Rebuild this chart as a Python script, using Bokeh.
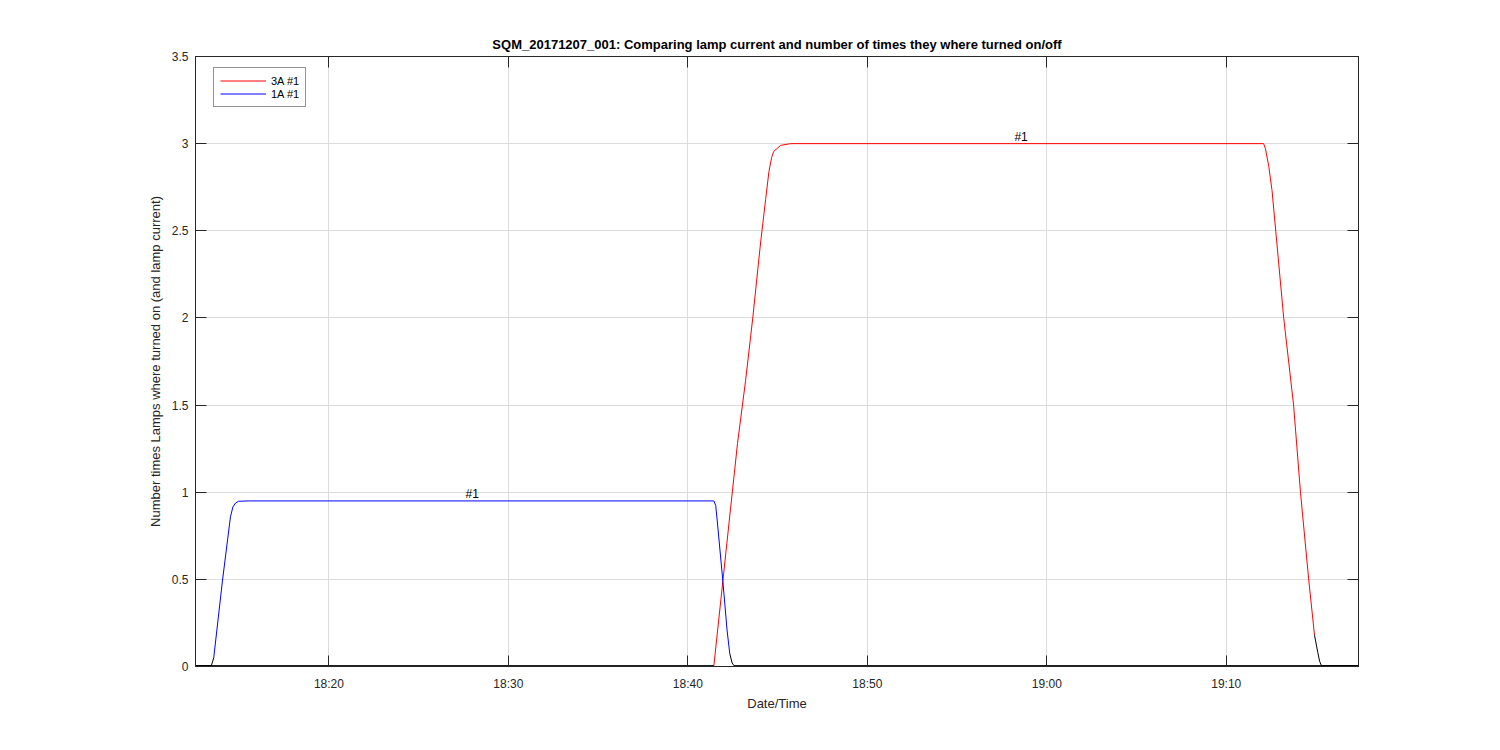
import pandas as pd
from bokeh.plotting import figure
from bokeh.models import (Range1d, LinearAxis, FixedTicker, DatetimeTickFormatter,
                          CustomJSTickFormatter, Legend, LegendItem)
from bokeh.embed import file_html
from bokeh.resources import INLINE
from bokeh.core.properties import value

DATE = "2017-12-07 "

# ---- axes -------------------------------------------------------------
x_start = "18:12:34"
x_end = "19:17:22"
x_ticks = ["18:20", "18:30", "18:40", "18:50", "19:00", "19:10"]
y_ticks = [0, 0.5, 1, 1.5, 2, 2.5, 3, 3.5]

# ---- 3A #1 (red while on, black while off) ----------------------------
lamp3a_on_time = ["18:41:27", "18:41:57", "18:42:23", "18:42:46", "18:43:13", "18:43:37",
                  "18:44:03", "18:44:20", "18:44:31", "18:44:40", "18:44:47", "18:45:10",
                  "18:45:43", "19:12:05", "19:12:11", "19:12:22", "19:12:33", "19:13:12",
                  "19:13:45", "19:14:08", "19:14:36", "19:14:55"]
lamp3a_on_value = [0.005, 0.49, 0.91, 1.28, 1.64, 2.0,
                   2.43, 2.68, 2.84, 2.92, 2.955, 2.99,
                   3.0, 3.0, 2.97, 2.87, 2.73, 2.0,
                   1.5, 1.0, 0.49, 0.18]
lamp3a_off1_time = ["18:12:34", "18:41:27"]
lamp3a_off1_value = [0.005, 0.005]
lamp3a_off2_time = ["19:14:55", "19:15:06", "19:15:12", "19:15:18", "19:17:22"]
lamp3a_off2_value = [0.18, 0.08, 0.03, 0.005, 0.005]

# ---- 1A #1 (blue while on, black while off) ---------------------------
lamp1a_on_time = ["18:13:35", "18:14:04", "18:14:31", "18:14:39", "18:14:48", "18:14:58",
                  "18:15:30", "18:41:27", "18:41:33", "18:41:38", "18:41:57", "18:42:11",
                  "18:42:20"]
lamp1a_on_value = [0.05, 0.49, 0.86, 0.915, 0.938, 0.948,
                   0.95, 0.95, 0.925, 0.84, 0.49, 0.21,
                   0.075]
lamp1a_off1_time = ["18:12:34", "18:13:27", "18:13:35"]
lamp1a_off1_value = [0.005, 0.005, 0.05]
lamp1a_off2_time = ["18:42:20", "18:42:28", "18:42:34", "19:17:22"]
lamp1a_off2_value = [0.075, 0.02, 0.005, 0.005]

# ---- annotations ------------------------------------------------------
label_time = ["18:27:59", "18:58:34"]
label_value = [0.95, 3.0]
label_text = ["#1", "#1"]


def ts(times):
    return pd.to_datetime([DATE + t for t in times])


FONT = "Liberation Sans"
AX = "#262626"

p = figure(width=1490, height=740, x_axis_type="datetime",
           output_backend="svg", toolbar_location=None,
           min_border_left=195, min_border_right=132,
           min_border_top=56, min_border_bottom=74,
           x_range=Range1d(pd.Timestamp(DATE + x_start), pd.Timestamp(DATE + x_end)),
           y_range=Range1d(0, 3.5))

p.background_fill_color = "white"
p.border_fill_color = "white"
p.outline_line_color = AX
p.outline_line_width = 1

tick_ms = [pd.Timestamp(DATE + t + ":00").value / 1e6 for t in x_ticks]
xticker = FixedTicker(ticks=tick_ms)
yticker = FixedTicker(ticks=y_ticks)

hm = "%H:%M"
p.xaxis.ticker = xticker
p.xaxis.formatter = DatetimeTickFormatter(milliseconds=hm, seconds=hm, minsec=hm, minutes=hm,
                                          hourmin=hm, hours=hm, days=hm, months=hm, years=hm)
p.yaxis.ticker = yticker
p.yaxis.formatter = CustomJSTickFormatter(code="return String(tick)")
p.xgrid.ticker = xticker
p.ygrid.ticker = yticker

for ax in (p.xaxis[0], p.yaxis[0]):
    ax.major_tick_in = 11
    ax.major_tick_out = 0
    ax.minor_tick_in = 0
    ax.minor_tick_out = 0
    ax.axis_line_color = AX
    ax.major_tick_line_color = AX
    ax.major_label_text_color = AX
    ax.major_label_text_font = FONT
    ax.major_label_text_font_size = "12px"
    ax.axis_label_text_font = FONT
    ax.axis_label_text_font_size = "13px"
    ax.axis_label_text_font_style = "normal"
    ax.axis_label_text_color = AX

p.xaxis.axis_label = "Date/Time"
p.yaxis.axis_label = "Number times Lamps where turned on (and lamp current)"
p.xaxis.major_label_standoff = 10
p.yaxis.major_label_standoff = 7
p.xaxis.axis_label_standoff = 2
p.yaxis.axis_label_standoff = 6

empty = CustomJSTickFormatter(code="return ''")
top = LinearAxis(ticker=xticker, formatter=empty)
right = LinearAxis(ticker=yticker, formatter=empty)
for ax in (top, right):
    ax.major_tick_in = 11
    ax.major_tick_out = 0
    ax.minor_tick_in = 0
    ax.minor_tick_out = 0
    ax.axis_line_color = AX
    ax.major_tick_line_color = AX
    ax.major_label_standoff = 0
p.add_layout(top, "above")
p.add_layout(right, "right")

for g in (p.xgrid[0], p.ygrid[0]):
    g.grid_line_color = "#dcdcdc"
    g.grid_line_width = 1

p.title.text = "SQM_20171207_001: Comparing lamp current and number of times they where turned on/off"
p.title.align = "center"
p.title.text_font = FONT
p.title.text_font_size = "13px"
p.title.text_font_style = "bold"
p.title.text_color = "black"

r3 = p.line(ts(lamp3a_on_time), lamp3a_on_value, line_color="red", line_width=1)
r1 = p.line(ts(lamp1a_on_time), lamp1a_on_value, line_color="blue", line_width=1)
for t, v in ((lamp3a_off1_time, lamp3a_off1_value), (lamp3a_off2_time, lamp3a_off2_value),
             (lamp1a_off1_time, lamp1a_off1_value), (lamp1a_off2_time, lamp1a_off2_value)):
    p.line(ts(t), v, line_color="black", line_width=1)

p.text(x=ts(label_time), y=label_value, text=label_text,
       text_font=value(FONT), text_font_size="12px", text_align="center",
       text_baseline="alphabetic", y_offset=-7, text_color="black")

legend = Legend(items=[LegendItem(label="3A #1", renderers=[r3]),
                       LegendItem(label="1A #1", renderers=[r1])],
                location=(18, 559))
legend.border_line_color = AX
legend.border_line_width = 1
legend.background_fill_alpha = 1
legend.padding = 6
legend.spacing = 0
legend.margin = 0
legend.glyph_width = 46
legend.glyph_height = 13
legend.label_height = 13
legend.label_standoff = 5
legend.label_text_font = FONT
legend.label_text_font_size = "11px"
legend.label_text_color = "black"
p.add_layout(legend)

open("out.html", "w").write(file_html(p, INLINE))
